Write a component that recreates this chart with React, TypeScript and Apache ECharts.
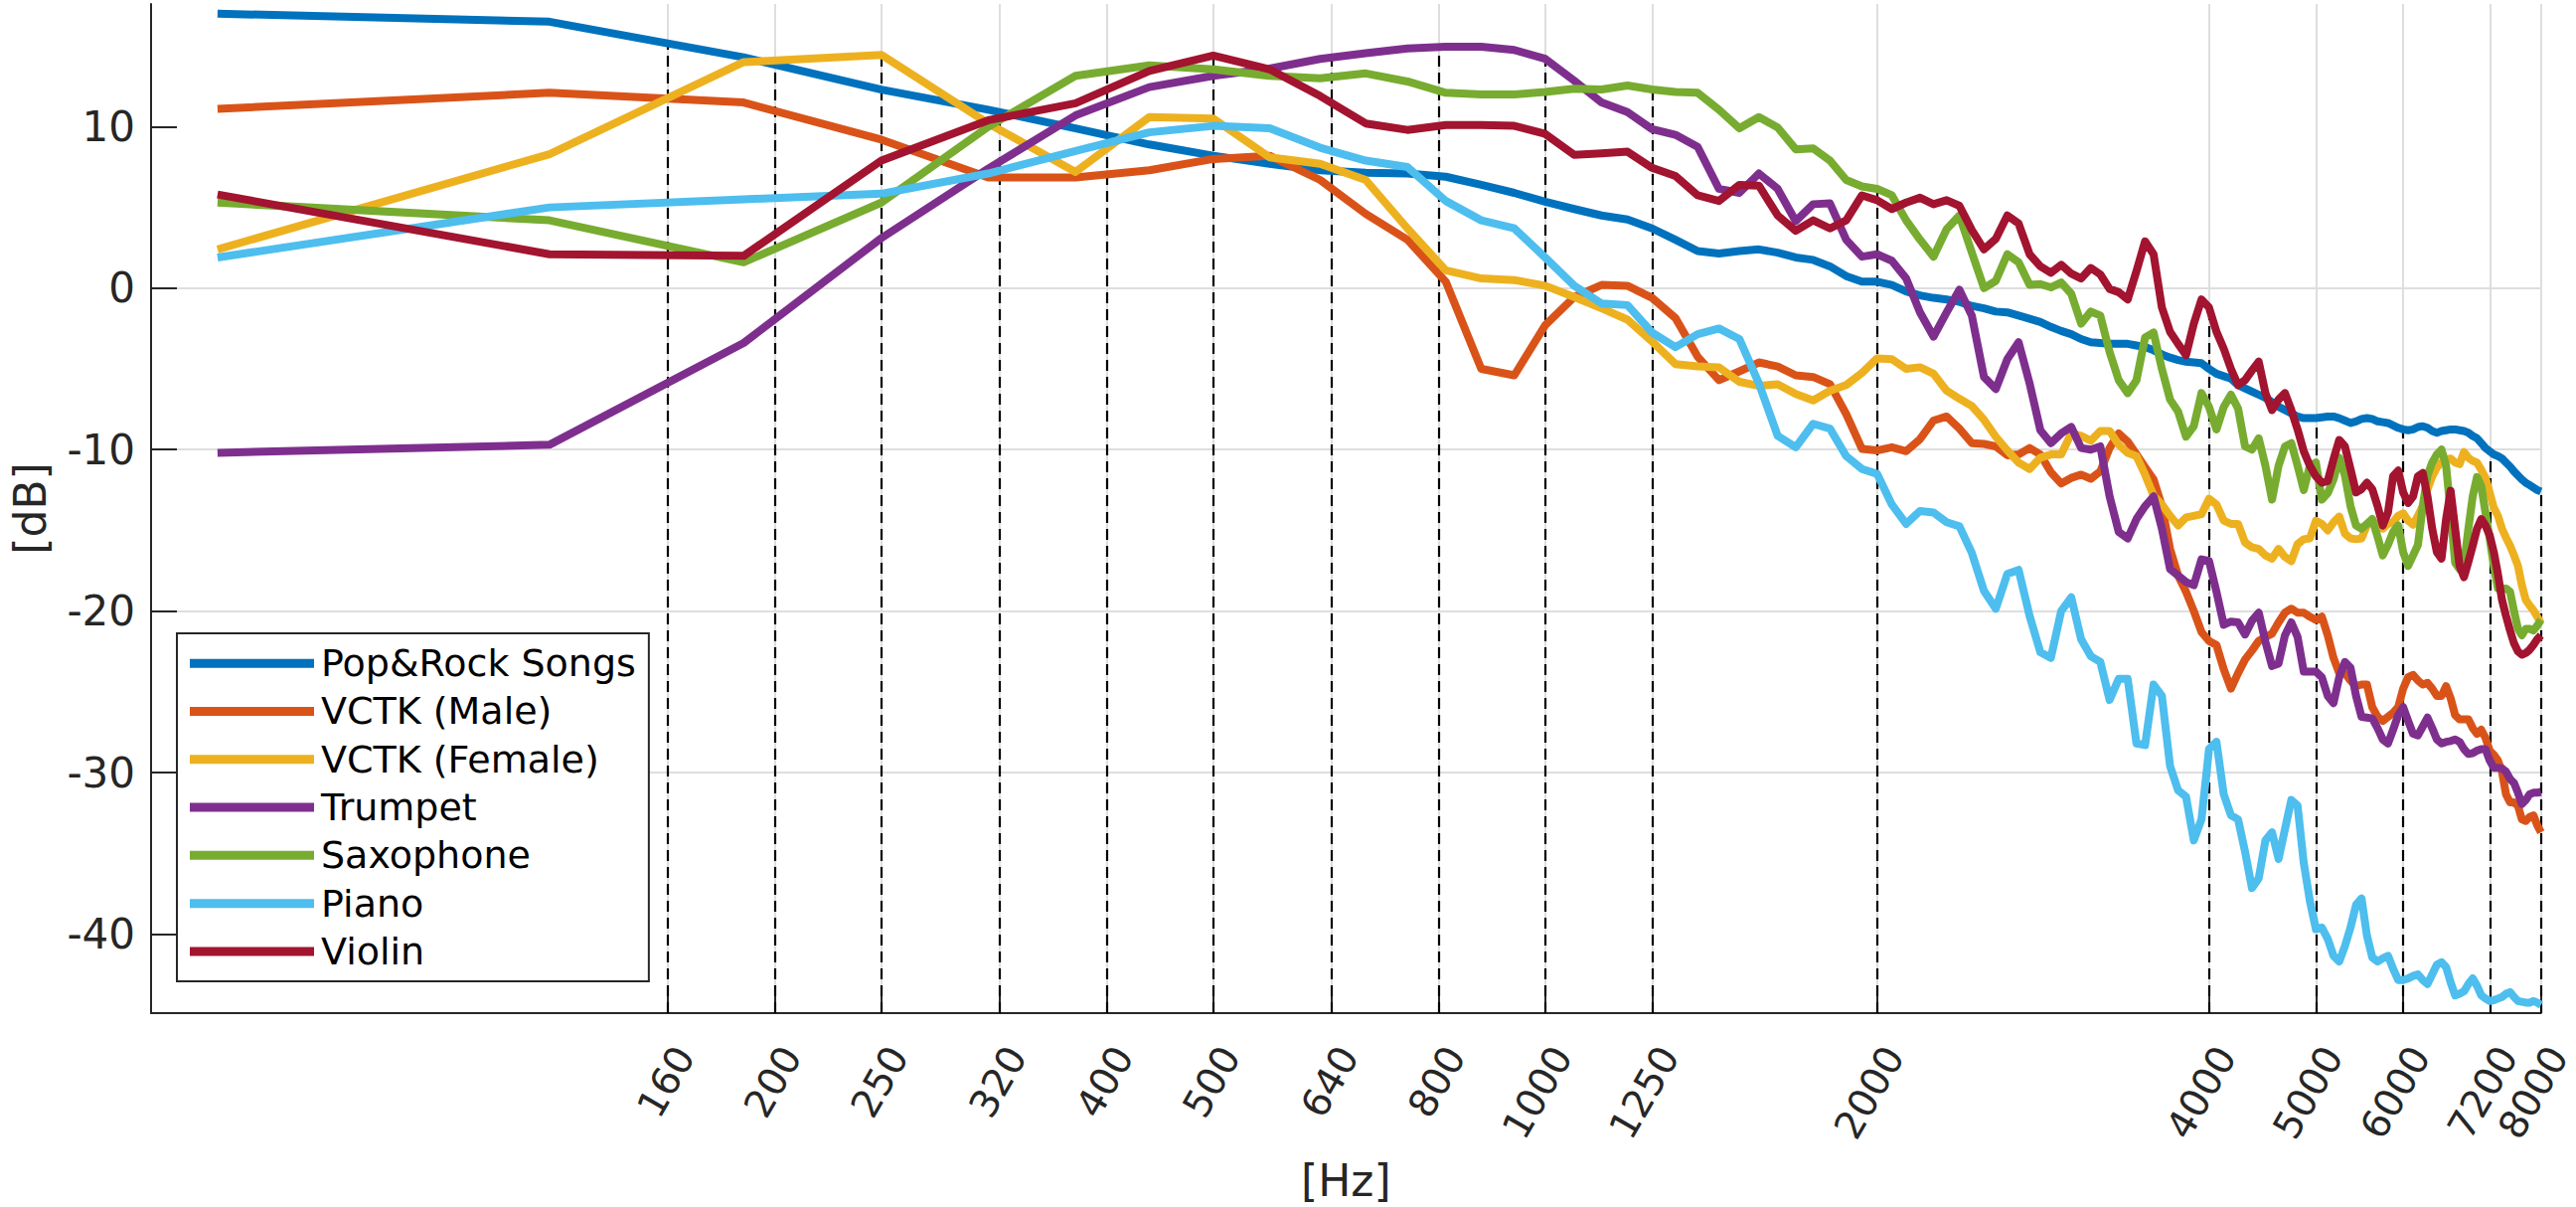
import React, { useEffect, useRef } from "react";
import * as echarts from "echarts";

const FONT = '"DejaVu Sans", "Liberation Sans", sans-serif';
const AXIS_COLOR = "#262626";
const GRID_COLOR = "#dedede";

// FFT bin centres: 62.5 Hz steps up to 8 kHz
const freqHz = Array.from({ length: 128 }, (_, i) => (i + 1) * 62.5);

const tickHz = [160, 200, 250, 320, 400, 500, 640, 800, 1000, 1250, 2000, 4000, 5000, 6000, 7200, 8000];
const yTicks = [-40, -30, -20, -10, 0, 10];

const X_MIN = 54.4;
const X_MAX = 8000;
const Y_MIN = -44.9;
const Y_MAX = 17.6;

const popRock = [
  17.0, 16.5, 14.3, 12.3, 11.05, 9.9, 8.9, 8.2, 7.7, 7.3, 7.15, 7.1, 6.9, 6.4, 5.9, 5.35,
  4.9, 4.5, 4.25, 3.7, 3.0, 2.3, 2.15, 2.3, 2.4, 2.2, 1.9, 1.75, 1.35, 0.75, 0.4, 0.4,
  0.2, -0.2, -0.45, -0.6, -0.7, -0.85, -1.1, -1.25, -1.45, -1.5, -1.7, -1.9, -2.1, -2.4, -2.65, -2.85,
  -3.15, -3.35, -3.4, -3.45, -3.45, -3.45, -3.55, -3.65, -3.85, -4.1, -4.3, -4.45, -4.55, -4.6, -4.65, -5.0,
  -5.3, -5.45, -5.6, -6.0, -6.2, -6.4, -6.6, -6.8, -7.05, -7.35, -7.55, -7.75, -7.95, -8.05, -8.05, -8.05,
  -8.0, -7.95, -7.95, -8.05, -8.2, -8.35, -8.25, -8.1, -8.05, -8.1, -8.25, -8.3, -8.35, -8.5, -8.65, -8.75,
  -8.8, -8.75, -8.6, -8.55, -8.65, -8.85, -8.95, -8.85, -8.8, -8.75, -8.75, -8.8, -8.85, -8.95, -9.15, -9.3,
  -9.6, -9.9, -10.1, -10.3, -10.4, -10.55, -10.8, -11.05, -11.35, -11.6, -11.85, -12.05, -12.2, -12.35, -12.5, -12.6,
];

const vctkMale = [
  11.1, 12.1, 11.5, 9.2, 6.85, 6.85, 7.3, 8.0, 8.2, 6.7, 4.6, 3.0, 0.4, -5.0, -5.4, -2.3,
  -0.55, 0.2, 0.15, -0.6, -1.85, -4.25, -5.7, -5.15, -4.6, -4.85, -5.4, -5.5, -5.95, -7.8, -9.95, -10.05,
  -9.85, -10.1, -9.35, -8.2, -7.95, -8.7, -9.6, -9.65, -9.8, -10.35, -10.3, -9.9, -10.3, -11.4, -12.1, -11.75,
  -11.55, -11.8, -11.35, -9.9, -9.0, -9.5, -10.3, -11.1, -11.85, -13.5, -16.15, -17.8, -18.8, -20.0, -21.3, -21.85,
  -22.1, -23.6, -24.8, -23.85, -23.0, -22.45, -21.85, -21.6, -21.4, -20.7, -20.1, -19.85, -20.1, -20.1, -20.35, -20.55,
  -20.35, -21.5, -22.9, -23.85, -23.85, -24.3, -24.65, -24.55, -24.55, -25.95, -26.55, -26.8, -26.55, -26.3, -25.95, -24.8,
  -24.1, -23.95, -24.3, -24.55, -24.45, -24.8, -25.25, -25.25, -24.65, -25.4, -26.45, -26.7, -26.7, -26.7, -27.25, -27.6,
  -27.35, -27.85, -28.65, -28.9, -29.25, -29.95, -31.35, -31.85, -31.85, -32.05, -32.9, -33.0, -32.75, -32.65, -33.25, -33.7,
];

const vctkFemale = [
  2.4, 8.3, 14.0, 14.45, 10.2, 7.2, 10.6, 10.5, 8.1, 7.7, 6.7, 3.7, 1.1, 0.6, 0.5, 0.15,
  -0.55, -1.25, -1.95, -3.3, -4.7, -4.85, -4.9, -5.8, -6.05, -5.95, -6.55, -6.95, -6.35, -6.0, -5.25, -4.35,
  -4.4, -5.0, -4.9, -5.3, -6.35, -6.85, -7.3, -8.15, -9.2, -10.05, -10.8, -11.2, -10.5, -10.3, -10.3, -9.0,
  -9.15, -9.45, -8.85, -8.85, -9.7, -10.2, -10.4, -11.55, -12.85, -13.4, -14.1, -14.7, -14.2, -14.1, -14.0, -13.05,
  -13.4, -14.4, -14.6, -14.6, -15.75, -16.05, -16.15, -16.55, -16.75, -16.15, -16.65, -16.9, -15.85, -15.55, -15.5, -14.4,
  -14.6, -15.0, -14.5, -14.15, -15.2, -15.5, -15.55, -15.5, -14.7, -14.35, -14.8, -14.9, -14.6, -14.5, -14.1, -13.95,
  -14.4, -14.65, -14.1, -13.5, -12.45, -11.65, -11.1, -10.8, -10.6, -10.55, -10.8, -10.9, -10.15, -10.5, -10.7, -10.8,
  -11.25, -11.75, -12.65, -13.6, -14.1, -14.9, -15.45, -15.95, -16.55, -17.2, -18.4, -19.3, -19.65, -19.95, -20.35, -20.75,
];

const trumpet = [
  -10.2, -9.7, -3.4, 3.1, 7.4, 10.7, 12.45, 13.15, 13.6, 14.2, 14.55, 14.85, 14.95, 14.95, 14.75, 14.2,
  12.85, 11.5, 10.9, 9.85, 9.5, 8.75, 6.15, 5.9, 7.1, 6.15, 4.15, 5.2, 5.25, 3.0, 1.95, 2.1,
  1.7, 0.6, -1.5, -3.0, -1.5, -0.1, -1.7, -5.5, -6.25, -4.4, -3.35, -5.9, -8.8, -9.6, -9.0, -8.6,
  -9.9, -10.0, -9.8, -12.9, -15.1, -15.5, -14.3, -13.5, -12.9, -14.9, -17.4, -17.8, -18.2, -18.4, -16.8, -16.9,
  -18.8, -20.85, -20.65, -20.7, -21.45, -20.6, -20.1, -21.9, -23.4, -23.25, -21.5, -20.7, -21.6, -23.75, -23.75, -23.75,
  -24.1, -25.25, -25.7, -24.1, -23.15, -23.5, -25.25, -26.55, -26.6, -26.65, -27.25, -27.95, -28.2, -27.35, -26.45, -25.95,
  -26.8, -27.6, -27.7, -27.15, -26.6, -27.25, -27.95, -28.2, -28.1, -28.05, -27.95, -28.1, -28.55, -28.85, -28.8, -28.65,
  -28.55, -28.55, -29.25, -29.7, -29.7, -29.75, -29.95, -30.4, -30.65, -31.25, -31.95, -31.7, -31.35, -31.25, -31.25, -31.2,
];

const saxophone = [
  5.3, 4.2, 1.6, 5.3, 10.0, 13.15, 13.8, 13.55, 13.15, 13.0, 13.3, 12.8, 12.1, 12.0, 12.0, 12.15,
  12.35, 12.3, 12.55, 12.3, 12.15, 12.1, 11.05, 9.9, 10.6, 9.95, 8.6, 8.65, 7.9, 6.7, 6.3, 6.15,
  5.75, 4.2, 3.0, 1.95, 3.65, 4.5, 2.2, 0.0, 0.45, 2.1, 1.6, 0.2, 0.25, 0.05, 0.35, -0.35,
  -2.2, -1.45, -1.7, -3.95, -5.7, -6.5, -5.7, -3.05, -2.75, -5.0, -6.9, -7.65, -9.2, -8.55, -6.5, -7.35,
  -8.75, -7.35, -6.6, -7.45, -9.8, -10.0, -9.3, -11.0, -13.1, -11.0, -9.8, -9.6, -11.0, -12.5, -11.0, -10.8,
  -13.1, -12.7, -11.85, -10.5, -11.6, -13.5, -14.7, -14.9, -14.6, -14.3, -15.4, -16.55, -15.9, -15.1, -14.7, -16.35,
  -17.2, -16.55, -15.9, -13.5, -11.6, -10.8, -10.3, -10.0, -11.0, -13.9, -17.0, -17.4, -17.1, -14.9, -12.9, -11.7,
  -12.25, -13.9, -15.5, -17.2, -18.6, -18.6, -18.6, -18.8, -20.0, -21.1, -21.5, -21.1, -21.1, -21.2, -20.9, -20.55,
];

const piano = [
  1.9, 5.0, 5.5, 5.85, 7.1, 8.5, 9.65, 10.05, 9.9, 8.7, 7.9, 7.5, 5.4, 4.2, 3.7, 1.9,
  0.15, -0.95, -1.05, -2.75, -3.65, -2.85, -2.5, -3.15, -5.9, -9.15, -9.85, -8.4, -8.7, -10.4, -11.2, -11.5,
  -13.4, -14.6, -13.8, -13.9, -14.5, -14.75, -16.4, -18.75, -19.85, -17.7, -17.45, -20.3, -22.55, -22.9, -20.0, -19.15,
  -21.75, -22.8, -23.15, -25.5, -24.2, -24.2, -28.2, -28.3, -24.55, -25.25, -29.6, -31.1, -31.5, -34.2, -32.9, -28.55,
  -28.1, -31.35, -32.65, -32.9, -34.9, -37.15, -36.55, -34.2, -33.7, -35.35, -33.5, -31.7, -32.05, -35.6, -37.95, -39.7,
  -39.6, -40.3, -41.35, -41.7, -40.75, -39.6, -38.2, -37.8, -40.1, -41.45, -41.7, -41.5, -41.35, -42.15, -42.85, -42.85,
  -42.75, -42.6, -42.5, -42.85, -43.1, -42.5, -41.9, -41.75, -42.05, -43.0, -43.8, -43.7, -43.55, -43.1, -42.75, -43.2,
  -43.8, -44.0, -44.15, -44.1, -44.0, -43.9, -43.7, -43.6, -43.9, -44.15, -44.2, -44.25, -44.25, -44.15, -44.25, -44.4,
];

const violin = [
  5.8, 2.1, 2.0, 7.9, 10.4, 11.45, 13.45, 14.4, 13.55, 11.9, 10.2, 9.8, 10.1, 10.1, 10.05, 9.55,
  8.25, 8.35, 8.45, 7.45, 6.95, 5.75, 5.4, 6.4, 6.35, 4.5, 3.55, 4.2, 3.7, 4.2, 5.75, 5.45,
  4.9, 5.3, 5.6, 5.2, 5.45, 5.1, 3.6, 2.4, 3.05, 4.5, 4.0, 2.1, 1.35, 0.95, 1.45, 0.9,
  0.6, 1.25, 0.85, -0.05, -0.25, -0.7, 1.05, 2.9, 2.1, -1.2, -2.7, -3.45, -4.15, -2.2, -0.7, -1.2,
  -2.7, -3.75, -5.0, -6.0, -5.7, -5.1, -4.55, -6.5, -7.55, -6.9, -6.5, -7.55, -8.75, -10.1, -11.0, -11.65,
  -12.05, -11.95, -10.6, -9.4, -9.8, -11.2, -12.65, -12.45, -12.05, -12.45, -13.5, -14.7, -13.9, -11.65, -11.3, -12.65,
  -13.3, -12.9, -11.65, -11.45, -12.9, -14.9, -16.35, -16.75, -14.3, -12.55, -14.9, -17.2, -17.9, -16.95, -15.95, -14.9,
  -14.3, -14.7, -15.3, -16.35, -17.7, -19.3, -20.3, -21.2, -22.0, -22.5, -22.7, -22.6, -22.4, -22.1, -21.75, -21.5,
];

const seriesNames = [
  "Pop&Rock Songs",
  "VCTK (Male)",
  "VCTK (Female)",
  "Trumpet",
  "Saxophone",
  "Piano",
  "Violin",
];
const seriesValues = [popRock, vctkMale, vctkFemale, trumpet, saxophone, piano, violin];
const seriesColors = ["#0072BD", "#D95319", "#EDB120", "#7E2F8E", "#77AC30", "#4DBEEE", "#A2142F"];

// value of a polyline (straight segments on the log-frequency axis) at frequency f
function valueAt(values: number[], f: number): number {
  const lf = Math.log10(f);
  for (let i = 0; i < freqHz.length - 1; i++) {
    if (f >= freqHz[i] && f <= freqHz[i + 1]) {
      const a = Math.log10(freqHz[i]);
      const b = Math.log10(freqHz[i + 1]);
      const t = (lf - a) / (b - a);
      return values[i] + t * (values[i + 1] - values[i]);
    }
  }
  return values[values.length - 1];
}

export default function App() {
  const ref = useRef<HTMLDivElement>(null);

  useEffect(() => {
    if (!ref.current) return;
    const chart = echarts.init(ref.current, null, { renderer: "svg" });

    const bandLines = tickHz.map((f) => {
      const top = Math.max(...seriesValues.map((v) => valueAt(v, f)));
      return [{ coord: [f, Y_MIN] }, { coord: [f, top] }];
    });

    const lineSeries = seriesNames.map((name, si) => ({
      name,
      type: "line",
      data: freqHz.map((f, i) => [f, seriesValues[si][i]]),
      symbol: "none",
      showSymbol: false,
      silent: true,
      z: 3,
      lineStyle: { width: 8, color: seriesColors[si], join: "round", cap: "butt" },
      itemStyle: { color: seriesColors[si] },
      emphasis: { disabled: true },
    }));

    const option = {
      animation: false,
      backgroundColor: "#ffffff",
      textStyle: { fontFamily: FONT },
      grid: { left: 143.5, right: 29, top: 4, bottom: 191, containLabel: false },
      legend: {
        orient: "vertical",
        left: 178,
        top: 637,
        padding: [6, 13, 6, 13],
        itemWidth: 125,
        itemHeight: 9,
        itemGap: 0,
        icon: "rect",
        borderColor: AXIS_COLOR,
        borderWidth: 2,
        backgroundColor: "#ffffff",
        selectedMode: false,
        data: seriesNames,
        textStyle: {
          fontSize: 38,
          color: "#000000",
          fontFamily: FONT,
          lineHeight: 48.3,
          padding: [0, 0, 0, 2],
        },
      },
      xAxis: {
        type: "log",
        logBase: 10,
        min: X_MIN,
        max: X_MAX,
        name: "[Hz]",
        nameLocation: "middle",
        nameGap: 146,
        nameMoveOverlap: false,
        nameTextStyle: { fontSize: 44, color: AXIS_COLOR, fontFamily: FONT },
        axisLine: { show: true, onZero: false, lineStyle: { color: AXIS_COLOR, width: 2 } },
        axisTick: {
          show: true,
          inside: true,
          length: 26,
          customValues: tickHz,
          lineStyle: { color: AXIS_COLOR, width: 2 },
        },
        axisLabel: {
          show: true,
          customValues: tickHz,
          rotate: 60,
          align: "right",
          verticalAlign: "top",
          fontSize: 39,
          color: AXIS_COLOR,
          fontFamily: FONT,
          margin: 27,
          formatter: (v: number) => String(Math.round(v)),
        },
        splitLine: { show: true, lineStyle: { color: GRID_COLOR, width: 2 } },
        minorTick: { show: false },
        minorSplitLine: { show: false },
      },
      yAxis: {
        type: "value",
        min: Y_MIN,
        max: Y_MAX,
        name: "[dB]",
        nameLocation: "middle",
        nameGap: 100,
        nameMoveOverlap: false,
        nameTextStyle: { fontSize: 44, color: AXIS_COLOR, fontFamily: FONT },
        axisLine: { show: true, onZero: false, lineStyle: { color: AXIS_COLOR, width: 2 } },
        axisTick: {
          show: true,
          inside: true,
          length: 26,
          customValues: yTicks,
          lineStyle: { color: AXIS_COLOR, width: 2 },
        },
        axisLabel: {
          show: true,
          customValues: yTicks,
          fontSize: 42,
          color: AXIS_COLOR,
          fontFamily: FONT,
          margin: 16,
        },
        splitLine: { show: true, showMinLine: false, showMaxLine: false, lineStyle: { color: GRID_COLOR, width: 2 } },
      },
      series: [
        {
          name: "bands",
          type: "line",
          data: [],
          silent: true,
          z: 2,
          markLine: {
            silent: true,
            z: 2,
            symbol: ["none", "none"],
            label: { show: false },
            emphasis: { disabled: true },
            lineStyle: { color: "#000000", type: [11, 6], width: 2.2 },
            data: bandLines,
          },
        },
        ...lineSeries,
      ],
    };

    chart.setOption(option as any);
    return () => chart.dispose();
  }, []);

  return (
    <div
      ref={ref}
      style={{ position: "fixed", left: 0, top: 0, width: 2592, height: 1214, background: "#ffffff" }}
    />
  );
}
